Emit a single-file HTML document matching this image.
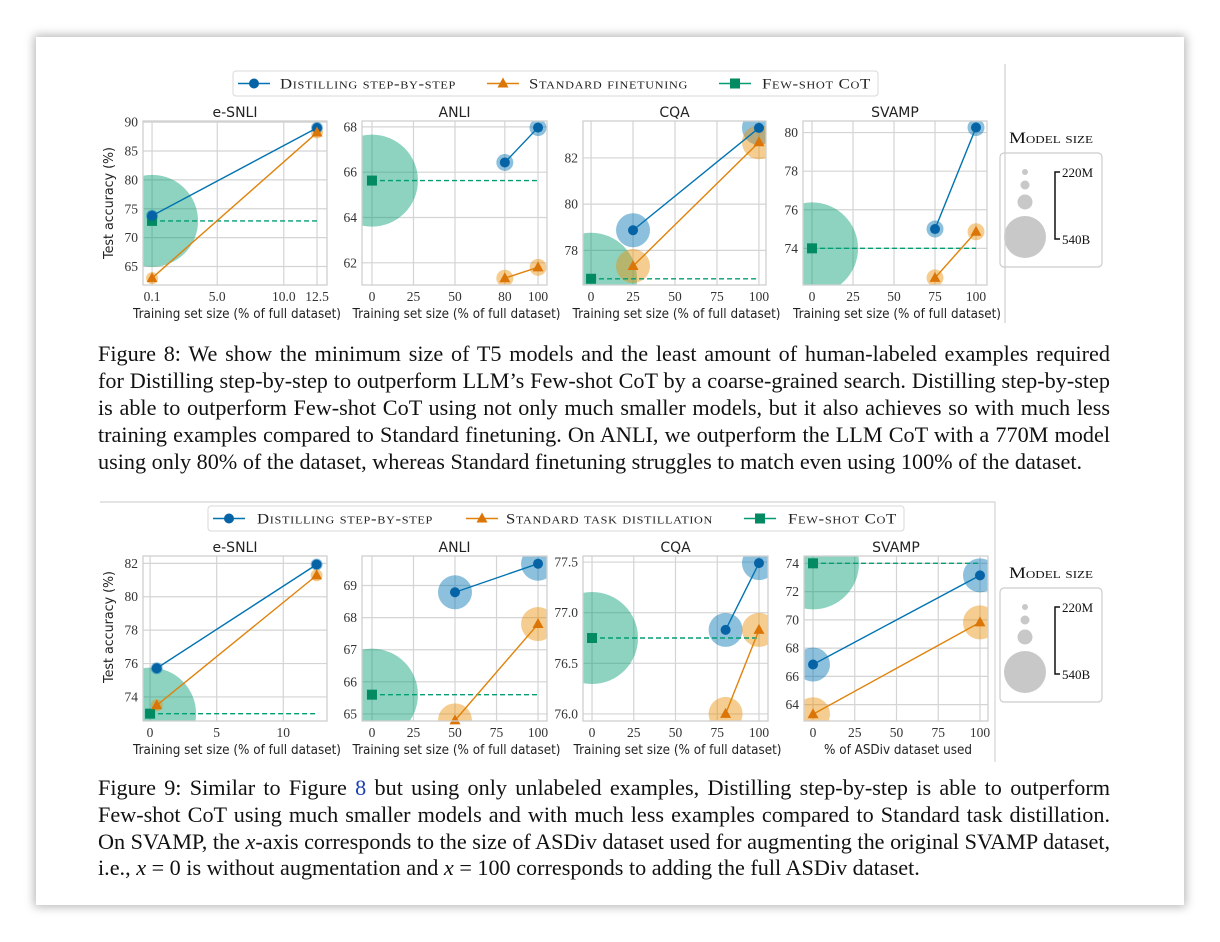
<!DOCTYPE html>
<html><head><meta charset="utf-8">
<style>
html,body{margin:0;padding:0;background:#fff;width:1220px;height:942px;overflow:hidden;position:relative}
#card{position:absolute;left:36px;top:37px;width:1148px;height:868px;background:#fff;box-shadow:0 0 9px 2px rgba(0,0,0,.28)}
svg{position:absolute;left:0;top:0}
.cap{position:absolute;left:98px;width:1012px;font-family:"Liberation Serif",serif;font-size:22.2px;line-height:27px;color:#111;text-align:justify;text-align-last:justify;white-space:nowrap}
.cap.last{text-align-last:left}
.cap i{font-style:italic}
</style></head><body>
<div id="card"></div>
<svg id="fig" width="1220" height="942"></svg>

<div class="cap" style="top:340px">Figure 8: We show the minimum size of T5 models and the least amount of human-labeled examples required</div>
<div class="cap" style="top:367px">for Distilling step-by-step to outperform LLM’s Few-shot CoT by a coarse-grained search. Distilling step-by-step</div>
<div class="cap" style="top:394px">is able to outperform Few-shot CoT using not only much smaller models, but it also achieves so with much less</div>
<div class="cap" style="top:421px">training examples compared to Standard finetuning. On ANLI, we outperform the LLM CoT with a 770M model</div>
<div class="cap last" style="top:448px">using only 80% of the dataset, whereas Standard finetuning struggles to match even using 100% of the dataset.</div>

<div class="cap" style="top:774px">Figure 9: Similar to Figure <span style="color:#1a3fb0">8</span> but using only unlabeled examples, Distilling step-by-step is able to outperform</div>
<div class="cap" style="top:801px">Few-shot CoT using much smaller models and with much less examples compared to Standard task distillation.</div>
<div class="cap" style="top:828px">On SVAMP, the <i>x</i>-axis corresponds to the size of ASDiv dataset used for augmenting the original SVAMP dataset,</div>
<div class="cap last" style="top:854px">i.e., <i>x</i> = 0 is without augmentation and <i>x</i> = 100 corresponds to adding the full ASDiv dataset.</div>

<script>
// ---------- DATA ----------
const datasets = ['e-SNLI','ANLI','CQA','SVAMP'];
// Figure 8
const f8DistillX = [[0.1,12.5],[80,100],[25,100],[75,100]];
const f8DistillY = [[73.8,89.0],[66.43,67.97],[78.87,83.3],[75.0,80.26]];
const f8DistillSize = [['220M','220M'],['770M','770M'],['11B','11B'],['770M','770M']];
const f8StdX = [[0.1,12.5],[80,100],[25,100],[75,100]];
const f8StdY = [[63.0,88.2],[61.32,61.8],[77.32,82.68],[72.47,74.86]];
const f8StdSize = [['220M','220M'],['770M','770M'],['11B','11B'],['770M','770M']];
const f8FewX = [0.1,0,0,0];
const f8FewEnd = [12.5,100,100,100];
const f8FewY = [72.9,65.63,76.77,74.0];
const f8XTicks = [[0.1,5.0,10.0,12.5],[0,25,50,80,100],[0,25,50,75,100],[0,25,50,75,100]];
const f8XTickLabels = [['0.1','5.0','10.0','12.5'],['0','25','50','80','100'],['0','25','50','75','100'],['0','25','50','75','100']];
const f8YTicks = [[65,70,75,80,85,90],[62,64,66,68],[78,80,82],[74,76,78,80]];
const f8XLim = [[-0.58,13.25],[-6,105.4],[-4.8,104.2],[-5.5,106.7]];
const f8YLim = [[61.8,90.2],[61.02,68.26],[76.5,83.6],[72.1,80.6]];
// Figure 9
const f9DistillX = [[0.5,12.5],[50,100],[80,100],[0,100]];
const f9DistillY = [[75.72,81.93],[68.79,69.68],[76.83,77.49],[66.84,73.15]];
const f9DistillSize = [['220M','220M'],['11B','11B'],['11B','11B'],['11B','11B']];
const f9StdX = [[0.5,12.5],[50,100],[80,100],[0,100]];
const f9StdY = [[73.5,81.28],[64.8,67.8],[76.0,76.83],[63.32,69.82]];
const f9StdSize = [['220M','220M'],['11B','11B'],['11B','11B'],['11B','11B']];
const f9FewX = [0,0,0,0];
const f9FewEnd = [12.5,100,100,100];
const f9FewY = [73.0,65.6,76.75,74.0];
const f9XTicks = [[0,5,10],[0,25,50,75,100],[0,25,50,75,100],[0,25,50,75,100]];
const f9XTickLabels = [['0','5','10'],['0','25','50','75','100'],['0','25','50','75','100'],['0','25','50','75','100']];
const f9YTicks = [[74,76,78,80,82],[65,66,67,68,69],[76.0,76.5,77.0,77.5],[64,66,68,70,72,74]];
const f9YTickLabels = [['74','76','78','80','82'],['65','66','67','68','69'],['76.0','76.5','77.0','77.5'],['64','66','68','70','72','74']];
const f9XLim = [[-0.53,13.28],[-6,105.4],[-5.4,105.4],[-5.4,104.8]];
const f9YLim = [[72.56,82.44],[64.78,69.92],[75.93,77.56],[62.84,74.52]];
const fewShotSize = '540B';
const sizeLegendLabels = ['220M','540B'];

// ---------- DRAWING ----------
const NS='http://www.w3.org/2000/svg';
const svg=document.getElementById('fig');
const radius={'220M':6,'770M':8.5,'11B':17,'540B':46};
const BLUE='#0173b2',ORANGE='#e0820a',GREEN='#029e73';
function mk(tag,attrs,parent){const e=document.createElementNS(NS,tag);for(const k in attrs)e.setAttribute(k,attrs[k]);(parent||svg).appendChild(e);return e;}
function txt(s,attrs,parent){const e=mk('text',attrs,parent);e.textContent=s;return e;}

function panel(fig,i,box,d){
  const [L,T,R,B]=box;
  const g=mk('g',{});
  
  
  const xs=v=>L+(v-d.xlim[0])/(d.xlim[1]-d.xlim[0])*(R-L);
  const ys=v=>B-(v-d.ylim[0])/(d.ylim[1]-d.ylim[0])*(B-T);
  const cid=fig+'clip'+i;
  const cp=mk('clipPath',{id:cid},g);mk('rect',{x:L,y:T,width:R-L,height:B-T},cp);
  d.xt.forEach((v,k)=>{
    const l=mk('line',{x1:xs(v),x2:xs(v),y1:T,y2:B,stroke:'#d4d4d4','stroke-width':1.2},g);
    
    
    const t=txt(d.xtl[k],{x:xs(v),y:B+16,'text-anchor':'middle','font-family':'Liberation Serif, serif','font-size':13.5,fill:'#333'},g);
    
    
  });
  d.yt.forEach((v,k)=>{
    const l=mk('line',{x1:L,x2:R,y1:ys(v),y2:ys(v),stroke:'#d4d4d4','stroke-width':1.2},g);
    
    
    const t=txt(d.ytl[k],{x:L-5,y:ys(v)+4.5,'text-anchor':'end','font-family':'Liberation Serif, serif','font-size':13.5,fill:'#333'},g);
    
    
  });
  const cg=mk('g',{'clip-path':'url(#'+cid+')'},g);
  const fb=mk('circle',{cx:xs(d.fx),cy:ys(d.fy),r:radius[fewShotSize],fill:GREEN,'fill-opacity':0.45},cg);
  
  
  d.dx.forEach((v,k)=>{
    const c=mk('circle',{cx:xs(v),cy:ys(d.dy[k]),r:radius[d.ds[k]],fill:BLUE,'fill-opacity':0.45},cg);
    
    
  });
  d.sx.forEach((v,k)=>{
    const c=mk('circle',{cx:xs(v),cy:ys(d.sy[k]),r:radius[d.ss[k]],fill:'#e8900a','fill-opacity':0.45},cg);
    
    
  });
  const fl=mk('line',{x1:xs(d.fx),x2:xs(d.fe),y1:ys(d.fy),y2:ys(d.fy),stroke:GREEN,'stroke-width':1.4,'stroke-dasharray':'5,3'},cg);
  
  
  const dl=mk('polyline',{points:d.dx.map((v,k)=>xs(v)+','+ys(d.dy[k])).join(' '),fill:'none',stroke:BLUE,'stroke-width':1.4},cg);
  
  
  const sl=mk('polyline',{points:d.sx.map((v,k)=>xs(v)+','+ys(d.sy[k])).join(' '),fill:'none',stroke:ORANGE,'stroke-width':1.4},cg);
  
  
  const fm=mk('rect',{x:xs(d.fx)-5,y:ys(d.fy)-5,width:10,height:10,fill:'#028a62'},g);
  
  
  d.dx.forEach((v,k)=>{
    const c=mk('circle',{cx:xs(v),cy:ys(d.dy[k]),r:5,fill:'#0563a6'},g);
    
    
  });
  d.sx.forEach((v,k)=>{
    const x=xs(v),y=ys(d.sy[k]);
    const p=mk('polygon',{points:`${x},${y-6} ${x-5.5},${y+4} ${x+5.5},${y+4}`,fill:'#dc7508'},g);
    
    
  });
  const sp=mk('rect',{x:L,y:T,width:R-L,height:B-T,fill:'none',stroke:'#cfcfcf','stroke-width':1.3},g);
  
  
  const ti=txt(datasets[i],{x:(L+R)/2,y:T-4,'text-anchor':'middle','font-family':'DejaVu Sans, Liberation Sans, sans-serif','font-size':14,fill:'#222'},g);
  
  
  const xl=txt(d.xlabel,{x:(L+R)/2+2,y:B+33,'text-anchor':'middle','font-family':'DejaVu Sans, Liberation Sans, sans-serif','font-size':13,fill:'#222',textLength:d.xlabelLen,lengthAdjust:'spacingAndGlyphs'},g);
  
  
}

function figure(fig,boxes,A){
  for(let i=0;i<4;i++){
    panel(fig,i,boxes[i],{
      xlim:A.xlim[i],ylim:A.ylim[i],xt:A.xt[i],xtl:A.xtl[i],yt:A.yt[i],ytl:A.ytl[i],
      dx:A.dx[i],dy:A.dy[i],ds:A.ds[i],sx:A.sx[i],sy:A.sy[i],ss:A.ss[i],
      fx:A.fx[i],fe:A.fe[i],fy:A.fy[i],
      xlabel:(fig==='fig9'&&i===3)?'% of ASDiv dataset used':'Training set size (% of full dataset)',
      xlabelLen:(fig==='fig9'&&i===3)?148:208
    });
  }
}

figure('fig8',[[143,121,327,285],[362,121,547,285],[583,121,766,285],[803,121,987,285]],{
  xlim:f8XLim,ylim:f8YLim,xt:f8XTicks,xtl:f8XTickLabels,yt:f8YTicks,ytl:f8YTicks.map(a=>a.map(String)),
  dx:f8DistillX,dy:f8DistillY,ds:f8DistillSize,sx:f8StdX,sy:f8StdY,ss:f8StdSize,fx:f8FewX,fe:f8FewEnd,fy:f8FewY});
figure('fig9',[[143,556,327,721],[362,556,547,721],[583,556,768,721],[804,556,988,721]],{
  xlim:f9XLim,ylim:f9YLim,xt:f9XTicks,xtl:f9XTickLabels,yt:f9YTicks,ytl:f9YTickLabels,
  dx:f9DistillX,dy:f9DistillY,ds:f9DistillSize,sx:f9StdX,sy:f9StdY,ss:f9StdSize,fx:f9FewX,fe:f9FewEnd,fy:f9FewY});

[[113,203],[113,627]].forEach(p=>{
  const t=txt('Test accuracy (%)',{x:p[0],y:p[1],transform:`rotate(-90 ${p[0]} ${p[1]})`,'text-anchor':'middle','font-family':'DejaVu Sans, Liberation Sans, sans-serif','font-size':13,fill:'#222',textLength:112,lengthAdjust:'spacingAndGlyphs'});
  
  
});

function legend(x0,y0,w,h,entries){
  const g=mk('g',{});
  
  
  mk('rect',{x:x0,y:y0,width:w,height:h,rx:3,fill:'#fff',stroke:'#d8d8d8','stroke-width':1},g);
  const cy=y0+h/2;
  entries.forEach(e=>{
    const eg=mk('g',{},g);
    
    
    mk('line',{x1:e.lx,x2:e.lx+32,y1:cy,y2:cy,stroke:e.c,'stroke-width':1.5},eg);
    const mx=e.lx+16;
    if(e.m==='o')mk('circle',{cx:mx,cy:cy,r:5,fill:e.mc},eg);
    else if(e.m==='^')mk('polygon',{points:`${mx},${cy-6} ${mx-5.5},${cy+4} ${mx+5.5},${cy+4}`,fill:e.mc},eg);
    else mk('rect',{x:mx-5,y:cy-5,width:10,height:10,fill:e.mc},eg);
    txt(e.t,{x:e.tx,y:cy+5,'font-family':'Liberation Serif, serif','font-size':15,fill:'#222',textLength:e.tl,lengthAdjust:'spacingAndGlyphs',style:'font-variant:small-caps;letter-spacing:0.6px'},eg);
  });
}
legend(233,71,645,25,[
  {lx:238,m:'o',c:BLUE,mc:'#0563a6',t:'Distilling step-by-step',tx:280,tl:176},
  {lx:487,m:'^',c:ORANGE,mc:'#dc7508',t:'Standard finetuning',tx:529,tl:159},
  {lx:719,m:'s',c:GREEN,mc:'#028a62',t:'Few-shot CoT',tx:762,tl:109}]);
legend(208,506,696,25,[
  {lx:213,m:'o',c:BLUE,mc:'#0563a6',t:'Distilling step-by-step',tx:257,tl:176},
  {lx:466,m:'^',c:ORANGE,mc:'#dc7508',t:'Standard task distillation',tx:506,tl:207},
  {lx:744,m:'s',c:GREEN,mc:'#028a62',t:'Few-shot CoT',tx:788,tl:109}]);

function sizeLegend(y0){
  const g=mk('g',{});
  
  
  txt('Model size',{x:1051,y:y0-10,'text-anchor':'middle','font-family':'Liberation Serif, serif','font-size':16,fill:'#111',style:'font-variant:small-caps',textLength:84,lengthAdjust:'spacingAndGlyphs'},g);
  mk('rect',{x:1000,y:y0,width:102,height:114,rx:4,fill:'#fff',stroke:'#cccccc','stroke-width':1.2},g);
  [[19,3],[32,4.5],[49,7.5],[84,21]].forEach(c=>mk('circle',{cx:1025,cy:y0+c[0],r:c[1],fill:'#c8c8c8'},g));
  mk('polyline',{points:`1060,${y0+19} 1055,${y0+19} 1055,${y0+86} 1060,${y0+86}`,fill:'none',stroke:'#111','stroke-width':1.5},g);
  txt(sizeLegendLabels[0],{x:1062,y:y0+24,'font-family':'Liberation Serif, serif','font-size':13,fill:'#111'},g);
  txt(sizeLegendLabels[1],{x:1062,y:y0+91,'font-family':'Liberation Serif, serif','font-size':13,fill:'#111'},g);
}
sizeLegend(153);
sizeLegend(588);

const d1=mk('line',{x1:1005,x2:1005,y1:64,y2:323,stroke:'#cfcfcf','stroke-width':1.2});


const d2=mk('polyline',{points:'100,502 995,502 995,762',fill:'none',stroke:'#d4d4d4','stroke-width':1.2});


</script>
</body></html>
